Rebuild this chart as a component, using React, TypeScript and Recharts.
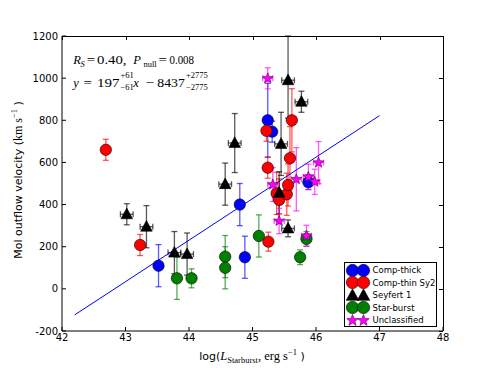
import React from "react";
import { ScatterChart, Scatter, XAxis, YAxis, ErrorBar } from "recharts";

const xTicks = [42, 43, 44, 45, 46, 47, 48];
const yTicks = [-200, 0, 200, 400, 600, 800, 1000, 1200];
const xDomain = [42, 48];
const yDomain = [-200, 1200];

// x = log L_starburst, y = outflow velocity, ey = velocity error, ex = log L error
const compThick = [
  { x: 43.52, y: 110, ey: 100, ex: 0.05 },
  { x: 44.8, y: 400, ey: 100, ex: 0.05 },
  { x: 44.88, y: 150, ey: 100, ex: 0.05 },
  { x: 45.24, y: 800, ey: 175, ex: 0.05 },
  { x: 45.31, y: 746, ey: 50, ex: 0.05 },
  { x: 45.88, y: 506, ey: 35, ex: 0.05 },
];

const compThin = [
  { x: 42.69, y: 660, ey: 50, ex: 0.05 },
  { x: 43.23, y: 208, ey: 50, ex: 0.05 },
  { x: 45.22, y: 750, ey: 50, ex: 0.05 },
  { x: 45.62, y: 800, ey: 150, ex: 0.05 },
  { x: 45.59, y: 620, ey: 150, ex: 0.05 },
  { x: 45.24, y: 575, ey: 50, ex: 0.05 },
  { x: 45.38, y: 453, ey: 100, ex: 0.05 },
  { x: 45.42, y: 422, ey: 100, ex: 0.05 },
  { x: 45.54, y: 449, ey: 100, ex: 0.05 },
  { x: 45.56, y: 493, ey: 100, ex: 0.05 },
  { x: 45.25, y: 224, ey: 45, ex: 0.05 },
];

const seyfert1 = [
  { x: 43.02, y: 354, ey: [50, 50], ex: 0.1 },
  { x: 43.33, y: 295, ey: [100, 100], ex: 0.1 },
  { x: 43.77, y: 172, ey: [100, 100], ex: 0.1 },
  { x: 43.97, y: 165, ey: [100, 100], ex: 0.1 },
  { x: 44.57, y: 497, ey: [100, 100], ex: 0.1 },
  { x: 44.72, y: 692, ey: [140, 140], ex: 0.1 },
  { x: 45.45, y: 688, ey: [150, 150], ex: 0.1 },
  { x: 45.42, y: 456, ey: [100, 100], ex: 0.1 },
  { x: 45.56, y: 990, ey: [180, 210], ex: 0.1 },
  { x: 45.77, y: 888, ey: [50, 50], ex: 0.1 },
  { x: 45.56, y: 287, ey: [40, 40], ex: 0.1 },
];

const starburst = [
  { x: 43.81, y: 50, ey: 100, ex: 0.05 },
  { x: 44.04, y: 50, ey: 45, ex: 0.05 },
  { x: 44.57, y: 153, ey: 100, ex: 0.05 },
  { x: 44.57, y: 100, ey: 100, ex: 0.05 },
  { x: 45.1, y: 251, ey: 100, ex: 0.05 },
  { x: 45.75, y: 150, ey: 35, ex: 0.05 },
  { x: 45.85, y: 237, ey: 35, ex: 0.05 },
];

const unclassified = [
  { x: 45.24, y: 999, ey: 50, ex: 0.08 },
  { x: 45.32, y: 495, ey: 80, ex: 0.08 },
  { x: 45.69, y: 520, ey: 150, ex: 0.08 },
  { x: 45.88, y: 532, ey: 60, ex: 0.08 },
  { x: 45.98, y: 508, ey: 60, ex: 0.08 },
  { x: 46.04, y: 599, ey: 100, ex: 0.08 },
  { x: 45.42, y: 322, ey: 60, ex: 0.08 },
  { x: 45.85, y: 252, ey: 50, ex: 0.08 },
];

const fitSlope = 197;
const fitIntercept = -8437;
const fitRange = [42.2, 47];

const legendItems = [
  { label: "Comp-thick", kind: "circle", color: "#0000ff" },
  { label: "Comp-thin Sy2", kind: "circle", color: "#ff0000" },
  { label: "Seyfert 1", kind: "triangle", color: "#000000" },
  { label: "Star-burst", kind: "circle", color: "#008000" },
  { label: "Unclassified", kind: "star", color: "#ff00ff" },
];

const sans = "'DejaVu Sans', sans-serif";
const serif = "'Liberation Serif', 'DejaVu Serif', serif";

// plot box (must agree with the chart margins / axis sizes below)
const W = 491;
const H = 368;
const PL = 62;
const PT = 36;
const PR = 48;
const PB = 37;
const plotW = W - PL - PR;
const plotH = H - PT - PB;

function starPath(cx: number, cy: number, ro: number, ri: number) {
  let d = "";
  for (let i = 0; i < 10; i++) {
    const r = i % 2 === 0 ? ro : ri;
    const a = -Math.PI / 2 + (i * Math.PI) / 5;
    d += (i === 0 ? "M" : "L") + (cx + r * Math.cos(a)).toFixed(2) + "," + (cy + r * Math.sin(a)).toFixed(2);
  }
  return d + "Z";
}

function Marker({ kind, color, cx, cy, s = 1 }: { kind: string; color: string; cx: number; cy: number; s?: number }) {
  if (kind === "triangle") {
    return (
      <path
        d={`M${cx},${cy - 6.2 * s}L${cx + 5.8 * s},${cy + 4.5 * s}L${cx - 5.8 * s},${cy + 4.5 * s}Z`}
        fill="#000"
        stroke="#000"
        strokeWidth={0.6}
      />
    );
  }
  if (kind === "star") {
    return <path d={starPath(cx, cy, 5.6 * s, 2.4 * s)} fill={color} stroke="#5a005a" strokeWidth={0.6} />;
  }
  return <circle cx={cx} cy={cy} r={5.7 * s} fill={color} stroke="#000" strokeWidth={0.6} />;
}

const shapeOf = (kind: string, color: string) => (p: any) =>
  <Marker kind={kind} color={color} cx={p.cx} cy={p.cy} />;

function Series({ data, kind, color, name }: any) {
  return (
    <Scatter name={name} data={data} shape={shapeOf(kind, color)} isAnimationActive={false}>
      <ErrorBar dataKey="ey" direction="y" width={3} stroke={color} strokeWidth={1.3} strokeOpacity={0.65} isAnimationActive={false} />
      <ErrorBar dataKey="ex" direction="x" width={3} stroke={color} strokeWidth={1.3} strokeOpacity={0.65} isAnimationActive={false} />
    </Scatter>
  );
}

export default function App() {
  const fitLine = fitRange.map((x) => ({ x, y: fitSlope * x + fitIntercept }));
  const tx = (v: number) => PL + ((v - xDomain[0]) / (xDomain[1] - xDomain[0])) * plotW;
  const ty = (v: number) => PT + ((yDomain[1] - v) / (yDomain[1] - yDomain[0])) * plotH;
  return (
    <div style={{ position: "absolute", left: 0, top: 0, width: W, height: H, background: "#fff" }}>
      <ScatterChart width={W} height={H} margin={{ top: PT, right: PR, bottom: 0, left: 0 }}>
        <XAxis
          type="number"
          dataKey="x"
          domain={xDomain}
          ticks={xTicks}
          height={PB}
          tickSize={-4}
          tickMargin={7}
          stroke="#000"
          tick={{ fill: "#000", fontSize: 10, fontFamily: sans }}
        />
        <YAxis
          type="number"
          dataKey="y"
          domain={yDomain}
          ticks={yTicks}
          width={PL}
          tickSize={-4}
          tickMargin={8}
          stroke="#000"
          tick={{ fill: "#000", fontSize: 10, fontFamily: sans }}
        />
        <Scatter
          name="fit"
          data={fitLine}
          line={{ stroke: "#0000ff", strokeWidth: 1 }}
          shape={() => <g />}
          isAnimationActive={false}
        />
        <Series name="Comp-thick" data={compThick} kind="circle" color="#0000ff" />
        <Series name="Comp-thin Sy2" data={compThin} kind="circle" color="#ff0000" />
        <Series name="Seyfert 1" data={seyfert1} kind="triangle" color="#000000" />
        <Series name="Star-burst" data={starburst} kind="circle" color="#008000" />
        <Series name="Unclassified" data={unclassified} kind="star" color="#ff00ff" />
      </ScatterChart>

      {/* top and right frame with inward ticks, as plain boxes */}
      <div
        style={{
          position: "absolute",
          left: PL,
          top: PT,
          width: plotW + 1,
          height: plotH,
          borderTop: "1px solid #000",
          borderRight: "1px solid #000",
          boxSizing: "border-box",
          pointerEvents: "none",
          zIndex: 4,
        }}
      />
      {xTicks.map((t) => (
        <div
          key={"tt" + t}
          style={{ position: "absolute", left: Math.round(tx(t)) - 0.5, top: PT, width: 1, height: 4, background: "#000", zIndex: 4 }}
        />
      ))}
      {yTicks.map((t) => (
        <div
          key={"rt" + t}
          style={{ position: "absolute", left: PL + plotW - 4, top: Math.round(ty(t)) - 0.5, width: 4, height: 1, background: "#000", zIndex: 4 }}
        />
      ))}

      <svg width={W} height={H} style={{ position: "absolute", left: 0, top: 0, pointerEvents: "none", zIndex: 5 }}>
        {/* statistics */}
        <g fontFamily={serif} fill="#000" fontSize={12.5}>
          <text x={73.3} y={64} fontStyle="italic">R</text>
          <text x={80.5} y={66.5} fontSize={8.5} fontStyle="italic">S</text>
          <text x={86.7} y={64} textLength={8.5} lengthAdjust="spacingAndGlyphs">=</text>
          <text x={97} y={64} textLength={29.5} lengthAdjust="spacingAndGlyphs">0.40,</text>
          <text x={133.3} y={64} fontStyle="italic">P</text>
          <text x={143.5} y={66.5} fontSize={8.5}>null</text>
          <text x={158.5} y={64} textLength={8.5} lengthAdjust="spacingAndGlyphs">=</text>
          <text x={169.5} y={64} textLength={24.5} lengthAdjust="spacingAndGlyphs">0.008</text>

          <text x={73.3} y={86.7} fontStyle="italic">y</text>
          <text x={83.5} y={86.7} textLength={8.5} lengthAdjust="spacingAndGlyphs">=</text>
          <text x={97} y={86.7} textLength={22.5} lengthAdjust="spacingAndGlyphs">197</text>
          <text x={120.5} y={78} fontSize={8.5}>+61</text>
          <text x={120.5} y={89.5} fontSize={8.5}>−61</text>
          <text x={133.3} y={86.7} fontStyle="italic">x</text>
          <text x={145.5} y={86.7} textLength={8.5} lengthAdjust="spacingAndGlyphs">−</text>
          <text x={157.3} y={86.7} textLength={27.5} lengthAdjust="spacingAndGlyphs">8437</text>
          <text x={186} y={78} fontSize={8.5}>+2775</text>
          <text x={186} y={89.5} fontSize={8.5}>−2775</text>
        </g>

        {/* axis titles */}
        <text x={252} y={360} textAnchor="middle" fontSize={11} fontFamily={sans} fill="#000">
          log(
          <tspan fontFamily={serif} fontStyle="italic" fontSize={12.5}>L</tspan>
          <tspan fontFamily={serif} fontSize={8.5} dy={2.5}>Starburst</tspan>
          <tspan fontFamily={serif} fontSize={12.5} dy={-2.5}>, erg s</tspan>
          <tspan fontFamily={serif} fontSize={8.5} dy={-5}>−1</tspan>
          <tspan dy={5}> )</tspan>
        </text>
        <text
          transform="translate(22,180) rotate(-90)"
          textAnchor="middle"
          fontSize={11}
          fontFamily={sans}
          fill="#000"
        >
          Mol outflow velocity (
          <tspan fontFamily={serif} fontSize={12}>km s</tspan>
          <tspan fontFamily={serif} fontSize={8.5} dy={-5}>−1</tspan>
          <tspan dy={5}> )</tspan>
        </text>
      </svg>

      {/* legend */}
      <div
        style={{
          position: "absolute",
          left: 344,
          top: 262,
          width: 93,
          height: 65,
          border: "1px solid #000",
          background: "#fff",
          boxSizing: "border-box",
          fontFamily: sans,
          fontSize: 8.5,
          padding: "1px 0 0 0",
          zIndex: 6,
        }}
      >
        {legendItems.map((it) => (
          <div key={it.label} style={{ display: "flex", alignItems: "center", height: 12.5 }}>
            <svg width={26} height={13} style={{ flex: "none" }}>
              <Marker kind={it.kind} color={it.color} cx={7.5} cy={6.5} s={1.08} />
              <Marker kind={it.kind} color={it.color} cx={18.5} cy={6.5} s={1.08} />
            </svg>
            <span style={{ marginLeft: 1.5, whiteSpace: "nowrap" }}>{it.label}</span>
          </div>
        ))}
      </div>
    </div>
  );
}
